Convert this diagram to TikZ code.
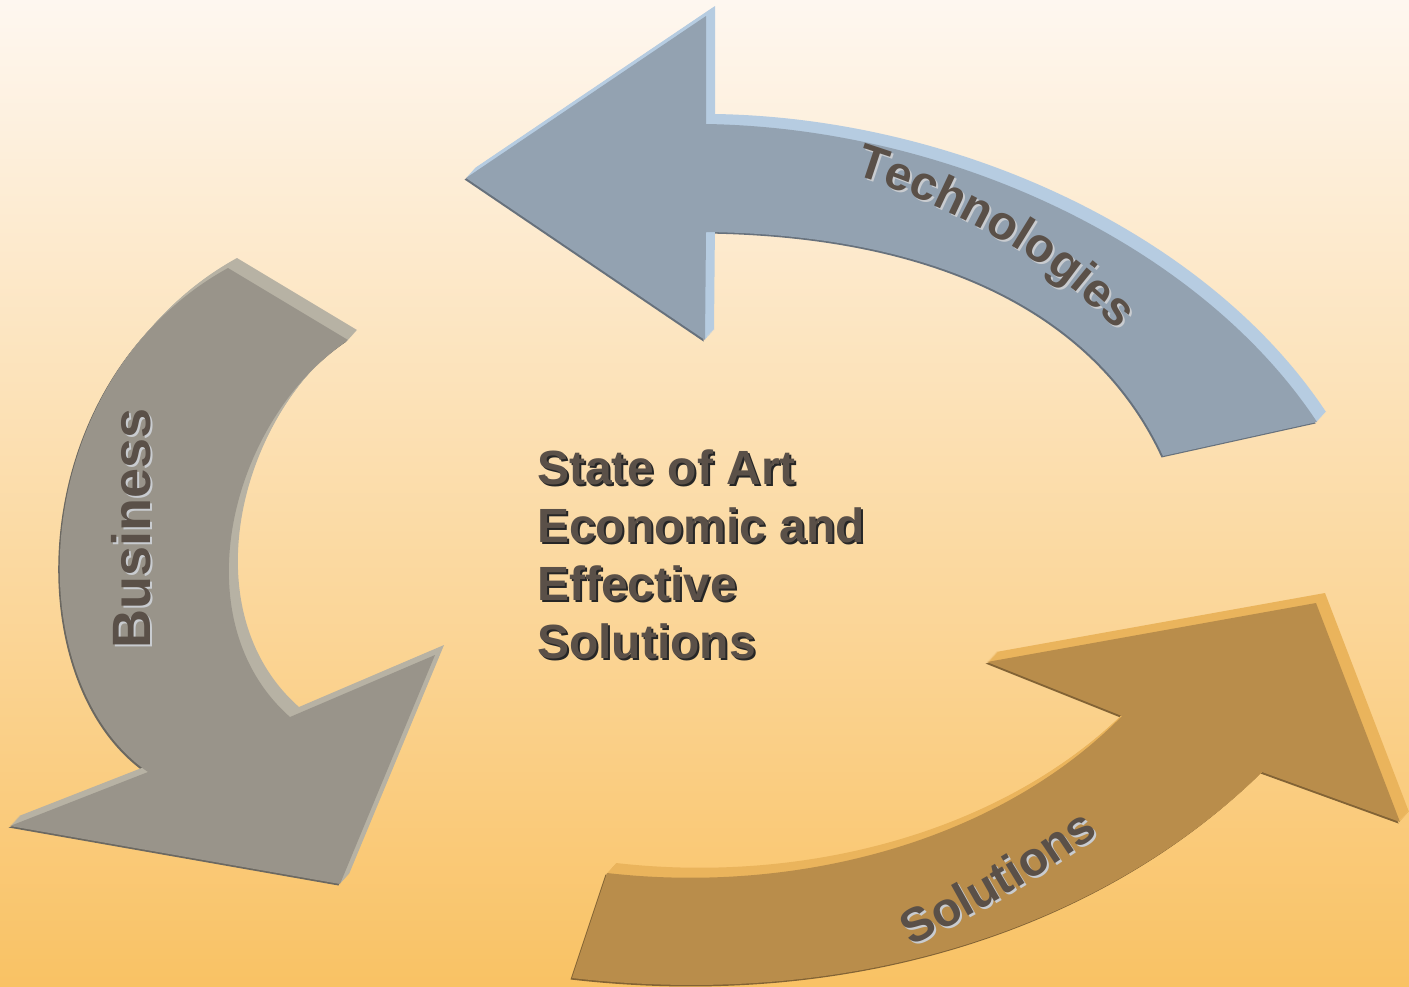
\documentclass[tikz,border=0pt]{standalone}
\usepackage{fontspec}
\setmainfont{Liberation Sans}
\usepackage{tikz}
\usetikzlibrary{decorations.text}
\definecolor{bgtop}{HTML}{FEF7F0}
\definecolor{bgbot}{HTML}{F9C264}
\definecolor{techface}{HTML}{93A2B1}
\definecolor{techside}{HTML}{B6CCE1}
\definecolor{busface}{HTML}{99948A}
\definecolor{busside}{HTML}{B7B2A4}
\definecolor{solface}{HTML}{B98D4B}
\definecolor{solside}{HTML}{EAB45C}
\definecolor{ink}{HTML}{5A5048}
\definecolor{haze}{HTML}{C9CCD0}
\newcommand{\labelfont}{\bfseries\fontsize{48}{48}\selectfont}
\newcommand{\slab}[3]{
	\fill[#1!70!black, shift={(-1.5, 1.5)}]#3;
	\foreach \s in {1, ..., 10}{\fill[#2, shift={(.9*\s, -\s)}]#3;}
	\fill[#1]#3;
}

\begin{document}
\begin{tikzpicture}[x=1pt, y=-1pt]
    \useasboundingbox(0, 0) rectangle (1409, 986);
    \shade[top color=bgtop, bottom color=bgbot](0, 0) rectangle (1409, 986);
    % the three arrows
    \slab{techface}{techside}{(466, 178)--(706, 16)--(706, 124) .. controls (950, 128) and (1200, 245) .. (1317, 422)--(1163, 456) .. controls (1100, 320) and (950, 235) .. (706, 232)--(705, 340)--cycle}
    \slab{busface}{busside}{(228, 268)--(348, 340) .. controls (230, 420) and (180, 620) .. (290, 717)--(435, 655)--(340, 884)--(10, 826)--(148, 772) .. controls (15, 680) and (25, 380) .. (228, 268)--cycle}
    \slab{solface}{solside}{(607, 873) .. controls (800, 895) and (1000, 840) .. (1122, 716)--(987, 662)--(1316, 603)--(1400, 822)--(1262, 772) .. controls (1100, 930) and (850, 1010) .. (572, 978)--cycle}
    % labels on the arrows
    \path[decorate, decoration={text along path, text={|\labelfont\color{haze}|Technologies}}](856, 177) .. controls (942, 203) and (1062, 263) .. (1130, 345);
    \path[decorate, decoration={text along path, text={|\labelfont\color{ink}|Technologies}}](854, 175) .. controls (940, 201) and (1060, 261) .. (1128, 343);
    \path[decorate, decoration={text along path, text={|\labelfont\color{haze}|Solutions}}](914, 949) .. controls (972, 917) and (1042, 882) .. (1125, 818);
    \path[decorate, decoration={text along path, text={|\labelfont\color{ink}|Solutions}}](912, 947) .. controls (970, 915) and (1040, 880) .. (1123, 816);
    \node[haze, font=\bfseries\fontsize{54}{54}\selectfont, rotate=90, inner sep=0](business-shade) at (133, 530){Business};
    \node[ink, font=\bfseries\fontsize{54}{54}\selectfont, rotate=90, inner sep=0](business) at (131, 528){Business};
    % centre text
    \node[black!85, anchor=north west, align=left, inner sep=0, font=\bfseries\fontsize{48}{58}\selectfont](core-shade) at (539, 452){State of Art\\Economic and\\Effective\\Solutions};
    \node[ink, anchor=north west, align=left, inner sep=0, font=\bfseries\fontsize{48}{58}\selectfont](core) at (537, 450){State of Art\\Economic and\\Effective\\Solutions};
\end{tikzpicture}
\end{document}
